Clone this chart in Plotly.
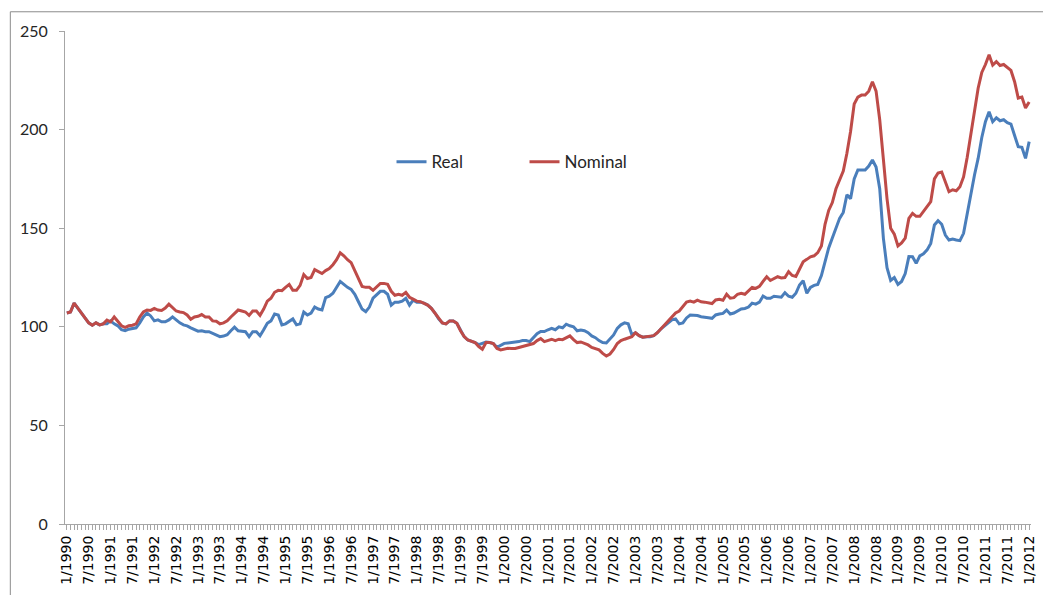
import plotly.graph_objects as go

# Monthly index values, 1/1990 .. 1/2012 (one row per year)
real = [
    107, 107.5, 112, 109.5, 107, 105, 102, 100.8, 102, 101, 101.5, 101.5,          # 1990
    103, 101.5, 100.5, 98.5, 98, 98.8, 99, 99.5, 102, 105, 107, 105.5,             # 1991
    103, 103.5, 102.5, 102.5, 103.5, 105, 103.5, 102, 101, 100.5, 99.5, 98.5,      # 1992
    97.8, 98, 97.5, 97.5, 96.7, 96, 95, 95.3, 96, 98, 99.8, 98,                    # 1993
    97.8, 97.5, 95, 97.5, 97.5, 95.5, 98.5, 101.8, 103, 106.5, 106, 101,           # 1994
    101.5, 102.7, 104, 101, 101.5, 107.5, 106, 107, 110, 109, 108.5, 114.8,        # 1995
    115.5, 117, 120, 123, 121.5, 120, 119, 116.5, 112.7, 109, 107.7, 110,          # 1996
    114.5, 116.5, 118, 118, 116.5, 111, 112.5, 112.5, 113, 114.5, 111, 113.5,      # 1997
    112.5, 112.5, 112, 111, 109.4, 107, 104, 102, 101.5, 103, 103, 101.8,          # 1998
    98, 95, 93.3, 92.7, 92, 91, 91.6, 92.3, 92, 91.5, 89.6, 90.5,                  # 1999
    91.6, 91.8, 92, 92, 92.5, 93, 93, 92.5, 94.5, 96.5, 97.6, 97.6,                # 2000
    98.5, 99.2, 98.5, 100, 99.5, 101.3, 100.5, 100, 98, 98.4, 98, 97,              # 2001
    95.4, 94.5, 93, 92, 91.8, 94, 95.9, 99.2, 101, 102, 101.5, 96,                 # 2002
    97, 95.5, 94.7, 95, 95, 95.5, 97, 99, 100.5, 102, 103.5, 104,                  # 2003
    101.5, 102, 104.5, 106, 106, 105.7, 105.1, 105, 104.6, 104.3, 106, 106.5,      # 2004
    106.8, 108.5, 106.5, 107, 108, 109, 109.3, 110, 112, 111.5, 112.5, 115.6,      # 2005
    114.5, 114.5, 115.5, 115.3, 115, 117.3, 115.5, 115, 117, 121.2, 123.4, 117,    # 2006
    120, 121, 121.5, 126, 133, 140, 145, 150, 155, 158, 167, 165,                  # 2007
    175, 179.5, 179.5, 179.5, 181.5, 184.6, 181, 170, 145, 130, 123.5, 125,        # 2008
    121.5, 123, 127, 135.6, 135.5, 132.2, 136, 137, 139, 142.3, 151.6, 153.8,      # 2009
    152, 146.5, 144, 144.5, 144, 143.7, 147.4, 157.5, 168, 177, 185.4, 196,        # 2010
    204, 209.1, 204, 206, 204.5, 205, 203.5, 202.8, 197, 191.3, 191, 185.4,        # 2011
    193.9,                                                                          # 2012
]

nominal = [
    107, 107.5, 112, 109.5, 107, 105, 102, 100.8, 102, 101, 101.5, 103.4,          # 1990
    102.5, 105, 103, 100.5, 99.7, 100.5, 100.8, 101.5, 105, 107.5, 108.5, 108.3,   # 1991
    109.3, 108.5, 108.3, 109.5, 111.5, 109.8, 108, 107.5, 107.2, 106, 103.8, 105,  # 1992
    105.3, 106.2, 105, 105, 103, 102.8, 101.5, 102, 103, 105, 107, 108.5,          # 1993
    108, 107.5, 105.8, 108, 108, 105.8, 109, 113, 114.5, 117.5, 118.5, 118.3,      # 1994
    120, 121.5, 118.5, 118.5, 121, 126.5, 124.5, 125, 129, 128, 127, 128.5,        # 1995
    129.5, 131.5, 134, 137.5, 136, 134, 132.5, 128.5, 124.5, 120.5, 120, 120,      # 1996
    118.5, 120.5, 122, 122, 121.5, 118, 116, 116.5, 116, 117.5, 115, 114,          # 1997
    113, 112.7, 112, 111, 109.4, 107, 104, 102, 101.5, 103, 103, 101.8,            # 1998
    98, 95, 93.3, 92.7, 92, 90, 88.6, 92, 92, 91.5, 89, 88.3,                      # 1999
    88.6, 89.1, 89, 89, 89.5, 90, 90.5, 90.8, 91.5, 93, 94, 92.5,                  # 2000
    93, 93.7, 93, 93.7, 93.5, 94.5, 95.4, 93.5, 92, 92.3, 91.5, 90.8,              # 2001
    89.5, 88.8, 88.3, 86.5, 85.2, 86.2, 88.5, 91.5, 93, 93.7, 94.5, 95,            # 2002
    97, 95.5, 94.7, 95, 95, 95.5, 97, 99, 101, 103, 104.5, 107,                    # 2003
    108, 110, 112.5, 113, 112.5, 113.5, 112.7, 112.5, 112.2, 111.8, 113.6, 114,    # 2004
    113.5, 116.5, 114.5, 114.8, 116.5, 117, 116.5, 118.5, 120, 119.5, 120.5, 123,  # 2005
    125.4, 123.5, 124.5, 125.4, 124.8, 125, 127.9, 126, 125.5, 129.5, 133, 134.2,  # 2006
    135.5, 136, 137.6, 141, 152, 159, 163, 170, 175, 179, 188, 199,                # 2007
    213, 216.5, 217.5, 217.5, 219.5, 224.3, 219.5, 205, 185, 165, 150, 147,        # 2008
    141, 142.5, 145, 155, 157.5, 156, 156, 158.5, 160.5, 163.5, 175, 178,          # 2009
    178.5, 173, 168.5, 169.5, 169, 171, 176, 186, 198, 209, 221, 229,              # 2010
    233, 238, 232.7, 234.5, 232.5, 233, 231.5, 230, 224.3, 216, 216.5, 211,        # 2011
    214,                                                                            # 2012
]

# month labels "m/yyyy", shown every 6 months
months = [f"{1 + i % 12}/{1990 + i // 12}" for i in range(len(real))]
tick_text = [m if i % 6 == 0 else "" for i, m in enumerate(months)]
x = list(range(len(months)))

fig = go.Figure()

fig.add_trace(go.Scatter(
    x=x, y=real, mode="lines", name="Real",
    line=dict(color="#4A7EBB", width=3),
))
fig.add_trace(go.Scatter(
    x=x, y=nominal, mode="lines", name="Nominal",
    line=dict(color="#BE4B48", width=3),
))

# outer chart border
fig.add_shape(
    type="rect", xref="paper", yref="paper",
    x0=-0.0566, x1=1.02, y0=-0.2, y1=1.039,
    line=dict(color="#8C8C8C", width=1), layer="below",
)

fig.update_layout(
    width=1043, height=595,
    margin=dict(l=65, r=6, t=31, b=71),
    paper_bgcolor="white", plot_bgcolor="white",
    showlegend=True,
    legend=dict(
        orientation="h", x=0.338, y=0.734, xanchor="left", yanchor="middle",
        font=dict(family="Lato", size=17, color="#262626"),
        entrywidth=88, entrywidthmode="pixels",
        bgcolor="rgba(0,0,0,0)",
    ),
    xaxis=dict(
        range=[-0.5, len(months) - 0.5],
        tickmode="array", tickvals=x, ticktext=tick_text,
        tickangle=-90,
        ticks="outside", ticklen=5, tickcolor="#A6A6A6", tickwidth=1,
        showline=True, linecolor="#A6A6A6", linewidth=1,
        showgrid=False, zeroline=False,
        tickfont=dict(family="DejaVu Sans", size=14, color="#000000"),
    ),
    yaxis=dict(
        range=[0, 250], dtick=50,
        ticks="outside", ticklen=5, tickcolor="#A6A6A6",
        showline=True, linecolor="#A6A6A6", linewidth=1,
        showgrid=False, zeroline=False,
        ticklabelstandoff=8,
        tickfont=dict(family="Lato", size=16, color="#262626"),
    ),
)

# remove the default page margin so the chart sits at the window origin
fig.write_html(
    "out.html",
    config={"displayModeBar": False},
    post_script="document.body.style.margin='0';",
)
